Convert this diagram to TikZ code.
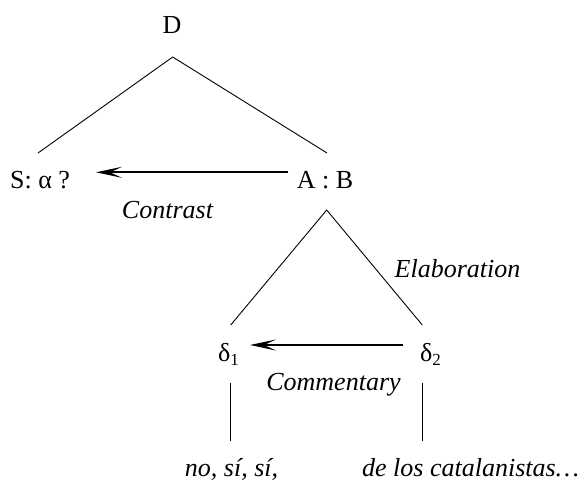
\documentclass[tikz,border=0pt]{standalone}
\usepackage{fontspec}
\setmainfont{Liberation Serif}
\usepackage{tikz}
\usetikzlibrary{arrows.meta}

\newcommand{\lowidx}[1]{\raisebox{-4pt}{\fontsize{17}{17}\selectfont #1}}

\tikzset{
    relname/.style={font=\fontsize{26}{31}\selectfont\itshape, anchor=base, inner sep=0pt},
    segname/.style={anchor=base, inner sep=0pt},
    branch/.style={line width=0.9pt},
    relarrow/.style={line width=2.2pt, -{Stealth[length=26pt, width=11pt, inset=12pt]}}
}

\begin{document}
\begin{tikzpicture}[x=1pt, y=-1pt, font=\fontsize{26}{31}\selectfont]
    % Fix the page to the size of the picture
    \useasboundingbox (0,0) rectangle (582,483);

    % Place the segments and the relations
    \node[segname] (D) at (172,33) {D};
    \node[segname] (S) at (40,188) {S: α ?};
    \node[segname] (AB) at (325,188) {A : B};
    \node[segname, anchor=base west] (d1) at (218,361) {δ\lowidx{1}};
    \node[segname, anchor=base west] (d2) at (420,361) {δ\lowidx{2}};
    \node[relname] (Contrast) at (167.5,218) {Contrast};
    \node[relname] (Elaboration) at (457.5,277) {Elaboration};
    \node[relname] (Commentary) at (333.5,390) {Commentary};
    \node[relname] (T1) at (231.5,476) {no, sí, sí,};
    \node[relname, anchor=base west] (T2) at (362,476) {de los catalanistas…};

    % Define coordinates for the branch ends
    \coordinate (Dtop) at (172.7,57);
    \coordinate (Sup) at (38,153);
    \coordinate (ABup) at (327,153);
    \coordinate (ABtop) at (326.7,210);
    \coordinate (d1up) at (230.7,325);
    \coordinate (d2up) at (422.3,325);
    \coordinate (d1low) at (230.7,383);
    \coordinate (T1up) at (230.7,441);
    \coordinate (d2low) at (422.3,383);
    \coordinate (T2up) at (422.3,441);

    % Connect the tree
    \draw[branch] (Sup) -- (Dtop) -- (ABup);
    \draw[branch] (d1up) -- (ABtop) -- (d2up);
    \draw[branch] (d1low) -- (T1up);
    \draw[branch] (d2low) -- (T2up);

    % Arrows for the relations
    \coordinate (ABfrom) at (288,172.3);
    \coordinate (Sto) at (96,172.3);
    \coordinate (d2from) at (403,345);
    \coordinate (d1to) at (250,345);
    \draw[relarrow] (ABfrom) -- (Sto);
    \draw[relarrow] (d2from) -- (d1to);
\end{tikzpicture}
\end{document}
